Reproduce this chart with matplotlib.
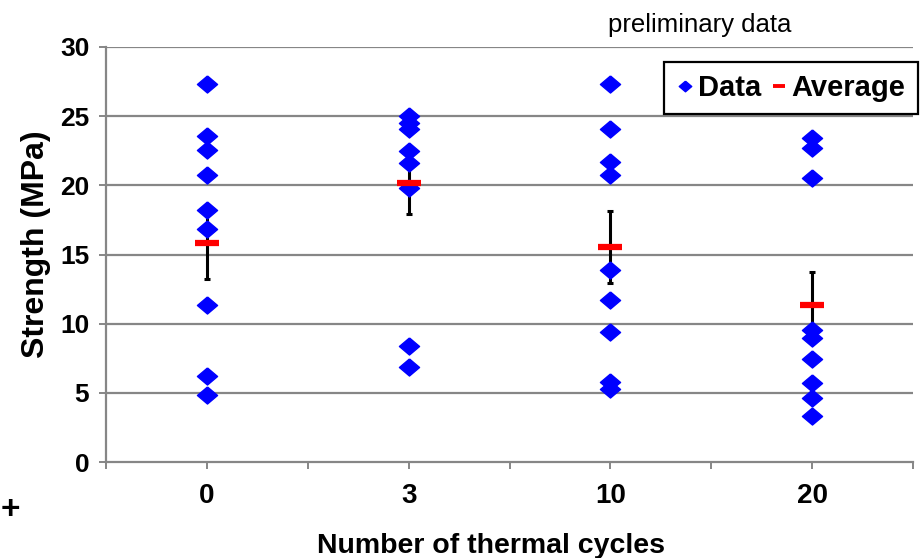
import matplotlib
matplotlib.use("Agg")
import matplotlib.pyplot as plt
from matplotlib.lines import Line2D
import numpy as np

# categories (number of thermal cycles)
cycles = ["0", "3", "10", "20"]

# individual strength readings (MPa)
data_0 = [27.3, 23.6, 22.55, 20.75, 18.2, 16.85, 11.35, 6.2, 4.85]
data_3 = [25.0, 24.5, 24.1, 22.5, 21.6, 19.8, 8.4, 6.9]
data_10 = [27.33, 24.05, 21.7, 20.75, 13.9, 11.7, 9.4, 5.8, 5.3]
data_20 = [23.4, 22.7, 20.5, 9.55, 8.95, 7.45, 5.7, 4.6, 3.3]

# averages and error bars
averages = [15.86, 20.2, 15.57, 11.35]
errors = [2.6, 2.3, 2.6, 2.4]

all_data = [data_0, data_3, data_10, data_20]

plt.rcParams['font.family'] = ['Liberation Sans', 'DejaVu Sans']

fig = plt.figure(figsize=(9.21, 5.58), dpi=100)
ax = fig.add_axes([106/921, 1-462/558, 807/921, 415/558])

grid_col = '#868686'
diamond = [(0, 1), (1.18, 0), (0, -1), (-1.18, 0), (0, 1)]

x = np.arange(len(cycles))

# error bars first, data on top, average on top of that
ax.errorbar(x, averages, yerr=errors, fmt='none', ecolor='black',
            elinewidth=2.2, capsize=2.5, capthick=2.2, zorder=3)

for i, vals in enumerate(all_data):
    ax.plot([x[i]] * len(vals), vals, linestyle='none', marker=diamond,
            ms=14.5, color='#0000ff', mec='#0000ff', zorder=4)

ax.plot(x, averages, linestyle='none', marker='_', ms=17, mew=4.5,
        color='#ff0000', zorder=5)

ax.set_xlim(-0.5, 3.5)
ax.set_ylim(0, 30)
ax.set_yticks([0, 5, 10, 15, 20, 25, 30])
ax.set_xticks(x)
ax.set_xticklabels(cycles)
ax.set_xticks(np.arange(-0.5, 4.0, 1.0), minor=True)

for gy in [5, 10, 15, 20, 25, 30]:
    ax.axhline(gy, color=grid_col, lw=1.6, zorder=1)

for s in ['top', 'right']:
    ax.spines[s].set_visible(False)
for s in ['left', 'bottom']:
    ax.spines[s].set_color(grid_col)
    ax.spines[s].set_linewidth(1.6)

ax.tick_params(axis='both', which='both', direction='out', color=grid_col,
               width=1.4, length=5)
ax.tick_params(axis='y', pad=7, labelsize=19)
ax.tick_params(axis='x', pad=10, labelsize=20)
for lab in ax.get_xticklabels() + ax.get_yticklabels():
    lab.set_fontweight('bold')

ax.set_xlabel('Number of thermal cycles', fontsize=20.5, fontweight='bold')
ax.xaxis.set_label_coords(0.477, -0.172)
ax.xaxis.label.set_va('top')
ax.set_ylabel('Strength (MPa)', fontsize=23, fontweight='bold')
ax.yaxis.set_label_coords(-0.087, 0.525)
ax.yaxis.label.set_va('center')

# legend proxies (smaller marks than in the plot)
h_data = Line2D([], [], linestyle='none', marker=diamond, ms=9,
                color='#0000ff', label='Data')
h_avg = Line2D([], [], linestyle='none', marker='_', ms=8, mew=2.8,
               color='#ff0000', label='Average')
leg = ax.legend(handles=[h_data, h_avg], loc='upper right',
                bbox_to_anchor=(1.006, 0.965), borderaxespad=0,
                ncol=2, frameon=True, fancybox=False, handlelength=0.6,
                handletextpad=0.15, columnspacing=0.3, borderpad=0.42,
                prop={'weight': 'bold', 'size': 21})
leg.get_frame().set_edgecolor('black')
leg.get_frame().set_linewidth(1.6)
leg.get_frame().set_alpha(1)

fig.text(608/921, 1-25/558, 'preliminary data', fontsize=18.5, va='center', ha='left')
fig.text(10/921, 1-511/558, '+', fontsize=24, fontweight='bold', ha='center', va='center')

fig.savefig('out.png', dpi=100)
